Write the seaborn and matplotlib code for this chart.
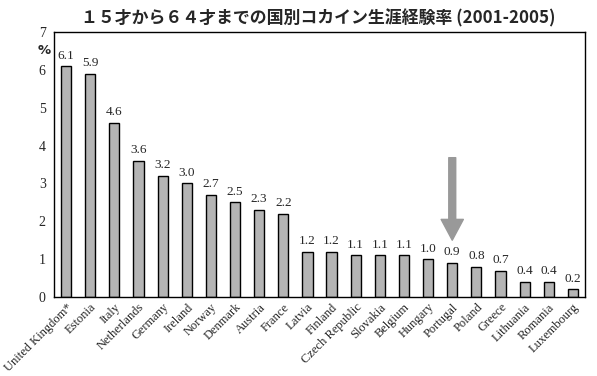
import matplotlib
matplotlib.use("Agg")
import matplotlib.pyplot as plt
import seaborn as sns
import pandas as pd

countries = ["United Kingdom*", "Estonia", "Italy", "Netherlands", "Germany", "Ireland",
             "Norway", "Denmark", "Austria", "France", "Latvia", "Finland", "Czech Republic",
             "Slovakia", "Belgium", "Hungary", "Portugal", "Poland", "Greece", "Lithuania",
             "Romania", "Luxembourg"]
values = [6.1, 5.9, 4.6, 3.6, 3.2, 3.0, 2.7, 2.5, 2.3, 2.2, 1.2, 1.2, 1.1, 1.1, 1.1,
          1.0, 0.9, 0.8, 0.7, 0.4, 0.4, 0.2]
yticks = [0, 1, 2, 3, 4, 5, 6, 7]
title = "１５才から６４才までの国別コカイン生涯経験率 (2001-2005)"
highlight = "Portugal"

sns.set_style("white")
plt.rcParams['font.family'] = ['Liberation Serif', 'DejaVu Serif']

df = pd.DataFrame({"country": countries, "value": values})

fig = plt.figure(figsize=(5.97, 3.76), dpi=100)
ax = fig.add_axes([54/597, 1-297/376, (585-54)/597, (297-32)/376])

sns.barplot(data=df, x="country", y="value", color="#b4b4b4", edgecolor="black",
            linewidth=1.0, width=0.42, saturation=1, ax=ax)
ax.set_xlim(-0.5, len(countries)-0.5)
ax.set_ylim(0, 7)
ax.set_yticks(yticks)
ax.set_yticklabels([str(t) for t in yticks], fontsize=10)
ax.set_xticks([i - 0.5 for i in range(len(countries)+1)], minor=False)
ax.set_xticklabels([])
ax.set_xticks(range(len(countries)), minor=True)
ax.set_xticklabels(countries, minor=True, rotation=45, ha="right", rotation_mode="anchor",
                   fontsize=9)
ax.tick_params(axis="x", which="minor", length=0, pad=3)
ax.tick_params(axis="x", which="major", direction="out", length=4, width=0.8, color="black")
ax.tick_params(axis="y", direction="out", length=4, width=0.8, color="black", pad=2)
ax.set_xlabel("")
ax.set_ylabel("")
for s in ax.spines.values():
    s.set_visible(True)
    s.set_color("black")
    s.set_linewidth(1.0)

for i, v in enumerate(values):
    ax.text(i, v + 0.12, f"{v:.1f}", ha="center", va="bottom", fontsize=9.5)

ax.text(-0.018, 0.93, "%", transform=ax.transAxes, fontsize=9.5, ha="center", va="center",
        family="DejaVu Sans Condensed", fontweight="bold")

hi = countries.index(highlight)
ax.annotate("", xy=(hi, 1.5), xytext=(hi, 3.68),
            arrowprops=dict(facecolor="#999999", edgecolor="#999999", width=5,
                            headwidth=16, headlength=15))

fig.text(318/597, 1-18/376, title, ha="center", va="center", fontsize=12.2,
         family=["Noto Sans CJK JP", "DejaVu Sans"], fontweight="bold")

fig.savefig("out.png", dpi=100)
